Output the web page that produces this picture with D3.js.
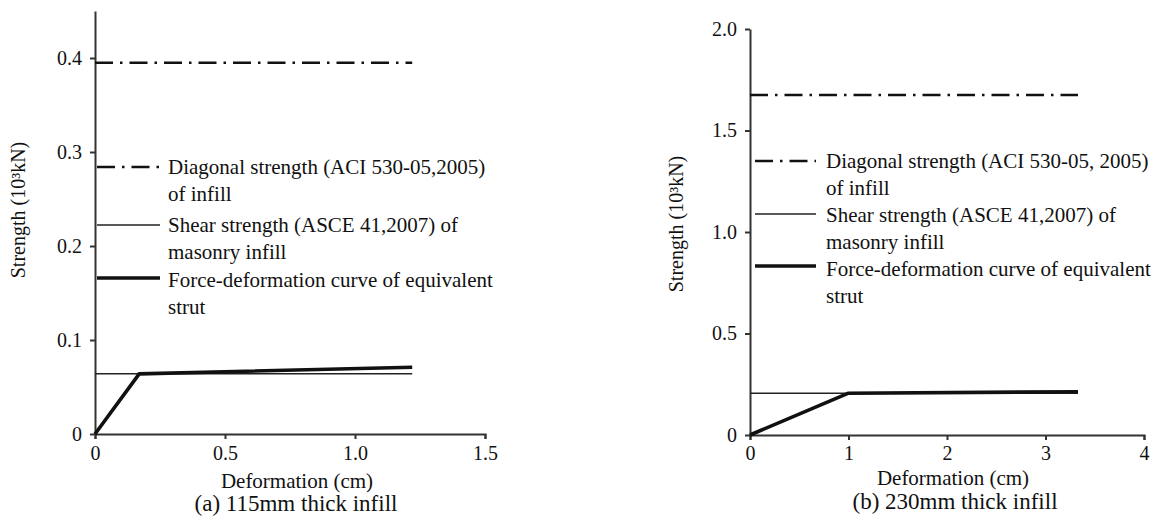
<!DOCTYPE html>
<html lang="en">
<head>
    <meta charset="UTF-8">
    <title>Strength vs deformation of masonry infill</title>
    <script src="https://d3js.org/d3.v7.min.js"></script>
    <style>
        body {
            margin: 0;
            background-color: #fff;
        }
        svg {
            display: block;
            font-family: "Liberation Serif", "Times New Roman", serif;
        }
        .axis path, .axis line {
            stroke: #333;
            stroke-width: 2px;
        }
        .axis text {
            font-size: 20px;
            fill: #111;
        }
        .label {
            font-size: 21px;
            fill: #111;
        }
        .caption {
            font-size: 23px;
            fill: #111;
        }
        .diag { fill: none; stroke: #111; stroke-width: 2.6px; stroke-dasharray: 18 7 2.5 7; }
        .shear { fill: none; stroke: #222; stroke-width: 1.5px; }
        .strut { fill: none; stroke: #111; stroke-width: 3.6px; stroke-linejoin: round; }
    </style>
</head>
<body>
    <div id="chart"></div>
    <script>
        // (a) 115mm thick infill -- [deformation (cm), strength (10^3 kN)]
        const diagA = [[0, 0.395], [1.22, 0.395]];
        const shearA = [[0, 0.064], [1.22, 0.064]];
        const strutA = [[0, 0], [0.17, 0.064], [1.22, 0.071]];
        const xTicksA = [0, 0.5, 1.0, 1.5];
        const yTicksA = [0, 0.1, 0.2, 0.3, 0.4];

        // (b) 230mm thick infill
        const diagB = [[0, 1.675], [3.33, 1.675]];
        const shearB = [[0, 0.206], [3.33, 0.206]];
        const strutB = [[0, 0], [1.0, 0.206], [3.33, 0.213]];
        const xTicksB = [0, 1, 2, 3, 4];
        const yTicksB = [0, 0.5, 1.0, 1.5, 2.0];

        const legendA = [
            ["Diagonal strength (ACI 530-05,2005)", "of infill"],
            ["Shear strength (ASCE 41,2007) of", "masonry infill"],
            ["Force-deformation curve of equivalent", "strut"]
        ];
        const legendB = [
            ["Diagonal strength (ACI 530-05, 2005)", "of infill"],
            ["Shear strength (ASCE 41,2007) of", "masonry infill"],
            ["Force-deformation curve of equivalent", "strut"]
        ];

        const xTitle = "Deformation (cm)";
        const captions = ["(a) 115mm thick infill", "(b) 230mm thick infill"];

        const serif = "'Liberation Serif', 'Times New Roman', serif";

        const svg = d3.select("#chart")
            .append("svg")
            .attr("width", 1160)
            .attr("height", 522);

        const fmt = d => d === 0 ? "0" : d3.format(".1f")(d);

        const panels = [
            {
                diag: diagA, shear: shearA, strut: strutA, legend: legendA,
                x: d3.scaleLinear().domain([0, 1.5]).range([95, 485]),
                y: d3.scaleLinear().domain([0, 0.45]).range([434, 11]),
                xTicks: xTicksA, yTicks: yTicksA, xFmt: fmt, xPad: 7,
                leg: { x0: 97, x1: 160, tx: 168, rows: [167, 225, 278], base: [174, 232, 287], step: 27 },
                yLab: { x: 25, y: 210 }, xLab: { x: 297, y: 488 },
                cap: { x: 296, y: 511, text: captions[0] }
            },
            {
                diag: diagB, shear: shearB, strut: strutB, legend: legendB,
                x: d3.scaleLinear().domain([0, 4]).range([750, 1144]),
                y: d3.scaleLinear().domain([0, 2]).range([435, 29]),
                xTicks: xTicksB, yTicks: yTicksB, xFmt: d3.format("d"), xPad: 6,
                leg: { x0: 755, x1: 816, tx: 826, rows: [161, 214, 266], base: [168, 222, 276], step: 27 },
                yLab: { x: 683, y: 224 }, xLab: { x: 953, y: 485 },
                cap: { x: 955, y: 509, text: captions[1] }
            }
        ];

        const line = (x, y) => d3.line().x(d => x(d[0])).y(d => y(d[1]));

        panels.forEach(p => {
            const g = svg.append("g");

            g.append("g")
                .attr("class", "axis")
                .attr("transform", `translate(0, ${p.y(0)})`)
                .call(d3.axisBottom(p.x).tickValues(p.xTicks).tickFormat(p.xFmt)
                    .tickSize(5).tickPadding(p.xPad))
                .attr("font-family", serif);

            g.append("g")
                .attr("class", "axis")
                .attr("transform", `translate(${p.x(0)}, 0)`)
                .call(d3.axisLeft(p.y).tickValues(p.yTicks).tickFormat(fmt)
                    .tickSize(5).tickSizeOuter(0).tickPadding(8))
                .attr("font-family", serif);

            const l = line(p.x, p.y);
            g.append("path").datum(p.shear).attr("class", "shear").attr("d", l);
            g.append("path").datum(p.diag).attr("class", "diag").attr("d", l);
            g.append("path").datum(p.strut).attr("class", "strut").attr("d", l);

            // legend
            const styles = ["diag", "shear", "strut"];
            p.legend.forEach((lines, i) => {
                g.append("line")
                    .attr("class", styles[i])
                    .attr("x1", p.leg.x0).attr("x2", p.leg.x1)
                    .attr("y1", p.leg.rows[i]).attr("y2", p.leg.rows[i]);
                lines.forEach((t, j) => {
                    g.append("text")
                        .attr("class", "label")
                        .attr("x", p.leg.tx)
                        .attr("y", p.leg.base[i] + j * p.leg.step)
                        .text(t);
                });
            });

            g.append("text")
                .attr("class", "label")
                .attr("transform", `translate(${p.yLab.x}, ${p.yLab.y}) rotate(-90)`)
                .attr("text-anchor", "middle")
                .style("font-size", "20px")
                .text("Strength (10³kN)");

            g.append("text")
                .attr("class", "label")
                .attr("x", p.xLab.x).attr("y", p.xLab.y)
                .attr("text-anchor", "middle")
                .text(xTitle);

            g.append("text")
                .attr("class", "caption")
                .attr("x", p.cap.x).attr("y", p.cap.y)
                .attr("text-anchor", "middle")
                .text(p.cap.text);
        });
    </script>
</body>
</html>
